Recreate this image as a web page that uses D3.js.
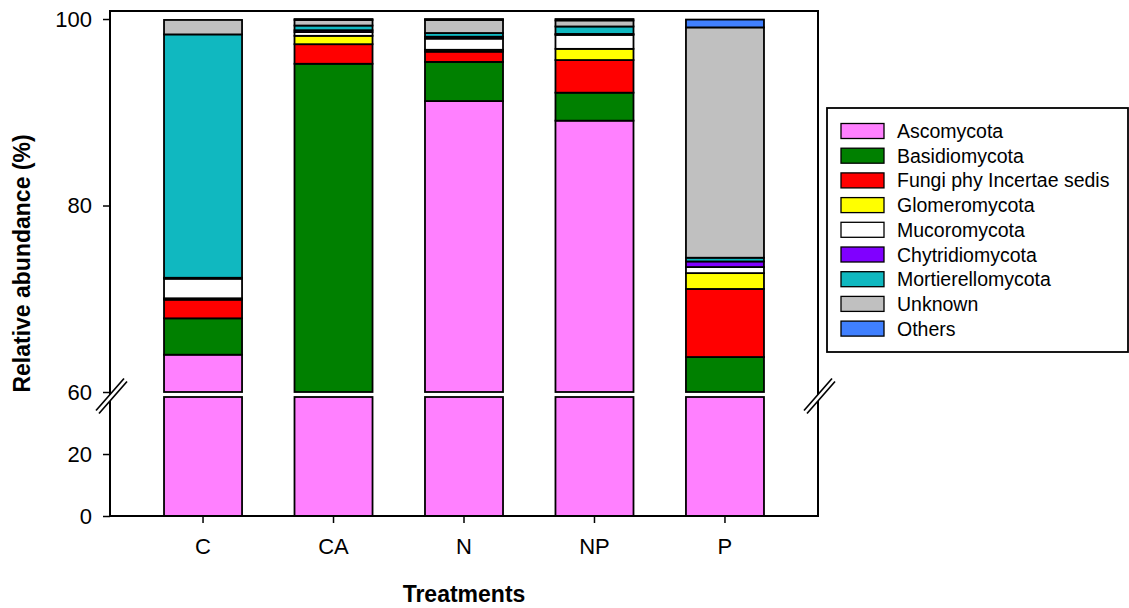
<!DOCTYPE html>
<html>
<head>
<meta charset="utf-8">
<script src="https://cdn.jsdelivr.net/npm/d3@7"></script>
<style>
  body{margin:0;background:#fff;}
  text{font-family:"Liberation Sans",Arial,sans-serif;}
</style>
</head>
<body>
<div id="chart"></div>
<script>
// data (percent)
const treatments=["C","CA","N","NP","P"];
const phyla=["Ascomycota","Basidiomycota","Fungi phy Incertae sedis","Glomeromycota","Mucoromycota","Chytridiomycota","Mortierellomycota","Unknown","Others"];
const ascomycota=[64.0,50.0,91.2,89.1,56.0];
const basidiomycota=[3.9,45.2,4.2,3.0,7.75];
const fungiIncertae=[2.0,2.1,1.1,3.5,7.3];
const glomeromycota=[0.15,0.9,0.2,1.2,1.7];
const mucoromycota=[2.1,0.4,1.2,1.5,0.65];
const chytridiomycota=[0.1,0.2,0.2,0.1,0.6];
const mortierellomycota=[26.1,0.5,0.4,0.8,0.4];
const unknown=[1.55,0.6,1.4,0.65,24.7];
const others=[0,0.1,0.1,0.15,0.84];
const lowTicks=[0,20];
const upTicks=[60,80,100];

const colors=["#ff80ff","#008000","#ff0000","#ffff00","#ffffff","#8000ff","#10b8c0","#c0c0c0","#4080ff"];
const seriesVals=[ascomycota,basidiomycota,fungiIncertae,glomeromycota,mucoromycota,chytridiomycota,mortierellomycota,unknown,others];

let width=1129;
let height=608;
let margin={left:110,right:818,top:11,bottom:516};
let breakLow=397,breakUp=392;

// table for d3.stack
let table=treatments.map((t,i)=>{
    let row={treatment:t};
    phyla.forEach((p,j)=>{row[p]=seriesVals[j][i];});
    return row;
});
let stacked=d3.stack().keys(phyla)(table);

let xScale=d3.scaleBand().domain(treatments).range([margin.left,margin.right]).paddingInner(0.402).paddingOuter(0.414);
let yUp=d3.scaleLinear().domain([60,100.86]).range([breakUp,margin.top]);
let yLow=d3.scaleLinear().domain([0,38.4]).range([margin.bottom,breakLow]);

var svg=d3.select("#chart").append("svg")
    .attr("width",width)
    .attr("height",height);

// bars, drawn in both panels, clipped to each panel's range
function drawPanel(scale){
    let d0=scale.domain()[0],d1=scale.domain()[1];
    let g=svg.append("g");
    stacked.forEach((s,j)=>{
        g.selectAll(null)
        .data(s.filter(d=>d[1]>d0 && d[0]<d1 && d[1]>d[0]))
        .enter()
        .append("rect")
        .attr("x",d=>xScale(d.data.treatment))
        .attr("width",xScale.bandwidth())
        .attr("y",d=>scale(Math.min(d[1],d1)))
        .attr("height",d=>scale(Math.max(d[0],d0))-scale(Math.min(d[1],d1)))
        .attr("fill",colors[j])
        .attr("stroke","#000")
        .attr("stroke-width",1.8);
    });
}
drawPanel(yUp);
drawPanel(yLow);

// frame
svg.append("rect")
    .attr("x",margin.left).attr("y",margin.top)
    .attr("width",margin.right-margin.left).attr("height",margin.bottom-margin.top)
    .attr("fill","none").attr("stroke","#000").attr("stroke-width",2);

// axes
function styleAxis(g){
    g.select(".domain").remove();
    g.selectAll(".tick line").attr("stroke","#000").attr("stroke-width",1.5);
    g.selectAll("text").attr("font-size","22px").attr("fill","#000");
}
svg.append("g").attr("transform","translate("+margin.left+",0)")
    .call(d3.axisLeft(yUp).tickValues(upTicks).tickSize(7).tickPadding(11))
    .call(styleAxis);
svg.append("g").attr("transform","translate("+margin.left+",0)")
    .call(d3.axisLeft(yLow).tickValues(lowTicks).tickSize(7).tickPadding(11))
    .call(styleAxis);
svg.append("g").attr("transform","translate(0,"+margin.bottom+")")
    .call(d3.axisBottom(xScale).tickSize(7).tickPadding(15))
    .call(styleAxis);

// break marks on both side axes
[margin.left,margin.right].forEach(x=>{
    let cy=(breakUp+breakLow)/2;
    svg.append("path")
    .attr("d","M"+(x-14)+","+(cy+16)+" L"+(x+14)+","+(cy-16)+" L"+(x+17)+","+(cy-13)+" L"+(x-11)+","+(cy+19)+"Z")
    .attr("fill","#fff");
    svg.append("line").attr("x1",x-14).attr("y1",cy+16).attr("x2",x+14).attr("y2",cy-16)
    .attr("stroke","#000").attr("stroke-width",1.6);
    svg.append("line").attr("x1",x-11).attr("y1",cy+19).attr("x2",x+17).attr("y2",cy-13)
    .attr("stroke","#000").attr("stroke-width",1.6);
});

// axis titles
svg.append("text")
    .attr("x",(margin.left+margin.right)/2).attr("y",602)
    .attr("text-anchor","middle")
    .attr("font-size","23px").attr("font-weight","bold")
    .text("Treatments");
svg.append("text")
    .attr("transform","translate(30,"+((margin.top+margin.bottom)/2)+") rotate(-90)")
    .attr("text-anchor","middle")
    .attr("font-size","23px").attr("font-weight","bold")
    .text("Relative abundance (%)");

// legend
let legend=svg.append("g").attr("transform","translate(827,108)");
legend.append("rect")
    .attr("width",301).attr("height",244)
    .attr("fill","#fff").attr("stroke","#000").attr("stroke-width",1.8);
let rows=legend.selectAll("g.row")
    .data(phyla)
    .enter()
    .append("g")
    .attr("class","row")
    .attr("transform",(d,i)=>"translate(0,"+(23+i*24.7)+")");
rows.append("rect")
    .attr("x",14).attr("y",-7.5)
    .attr("width",43).attr("height",15)
    .attr("fill",(d,i)=>colors[i])
    .attr("stroke","#000").attr("stroke-width",1.3);
rows.append("text")
    .attr("x",70).attr("y",7)
    .attr("font-size","19.5px")
    .text(d=>d);
</script>
</body>
</html>
